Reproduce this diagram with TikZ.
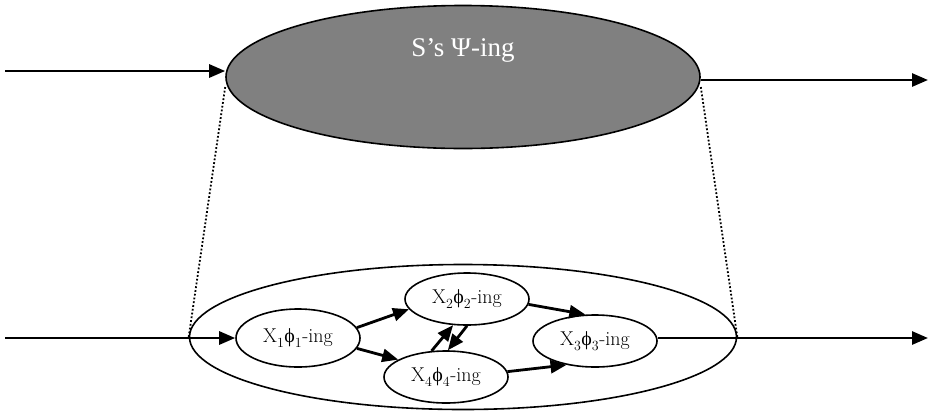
\documentclass[tikz,border=0pt]{standalone}
\usepackage{fontspec}
\newfontfamily\tms{Liberation Serif}
\usetikzlibrary{arrows.meta,shapes.geometric}
\newcommand{\lbl}[1]{X\textsubscript{\raisebox{-2pt}{#1}}{\tms ϕ}\textsubscript{\raisebox{-2pt}{#1}}-ing}
\begin{document}
\begin{tikzpicture}[x=1pt,y=-1pt,
  arr/.style={line width=2.8pt,-{Triangle[length=16pt,width=13pt]}},
  inner/.style={ellipse,draw,line width=1.6pt,inner sep=0pt,font=\fontsize{20}{22}\selectfont}]
\useasboundingbox (0,0) rectangle (933,413);
% top ellipse
\node[ellipse,draw,line width=1.6pt,fill=black!50,minimum width=474pt,minimum height=143pt,inner sep=0pt] (top) at (463,77) {};
\node[text=white,font=\tms\fontsize{27}{30}\selectfont] (ttl) at (463,50) {S’s Ψ-ing};
% bottom ellipse
\node[ellipse,draw,line width=1.6pt,minimum width=547pt,minimum height=145pt,inner sep=0pt] (bot) at (463,337) {};
% inner nodes
\node[inner,minimum width=124pt,minimum height=58pt] (x1) at (298,338) {\lbl{1}};
\node[inner,minimum width=124pt,minimum height=52pt] (x2) at (467,299) {\lbl{2}};
\node[inner,minimum width=124pt,minimum height=52pt] (x3) at (595,341) {\lbl{3}};
\node[inner,minimum width=124pt,minimum height=52pt] (x4) at (446,377) {\lbl{4}};
% coordinates
\coordinate (inL) at (5,71);
\coordinate (outR) at (928,80);
\coordinate (inL2) at (5,338);
\coordinate (outR2) at (928,338);
% top arrows
\draw[arr] (inL) -- (top.west |- inL);
\draw[arr] (top.east |- outR) -- (outR);
% dotted lines
\draw[dotted,line width=1.8pt] ([yshift=-10pt]top.west) -- (bot.west);
\draw[dotted,line width=1.8pt] ([yshift=-10pt]top.east) -- (bot.east);
% bottom arrows
\draw[arr] (inL2) -- (x1.west);
\draw[arr] (x3.east |- outR2) -- (outR2);
\draw[arr] (x1.10) -- (x2.190);
\draw[arr] (x1.-10) -- (x4.160);
\draw[arr] (x2.-5) -- (x3.110);
\draw[arr] (x4.5) -- (x3.220);
\draw[arr] (x4.119) -- (x2.-118);
\draw[arr] (x2.-90) -- (x4.86);
\end{tikzpicture}
\end{document}
